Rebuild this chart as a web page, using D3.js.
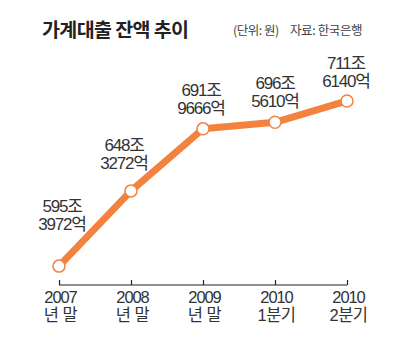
<!DOCTYPE html>
<html><head><meta charset="utf-8">
<script src="https://cdn.jsdelivr.net/npm/d3@7/dist/d3.min.js"></script>
<style>
html,body{margin:0;padding:0;background:#fff;}
svg{display:block;}
</style></head>
<body>
<script>
// ---- data ----
const periods = ["2007", "2008", "2009", "2010", "2010"];
const periodSub = ["년 말", "년 말", "년 말", "1분기", "2분기"];
const balanceJo = [595, 648, 691, 696, 711];      // 조 원
const balanceEok = [3972, 3272, 9666, 5610, 6140]; // 억 원
const title = "가계대출 잔액 추이";
const unitNote = "(단위: 원)";
const sourceNote = "자료: 한국은행";

const values = balanceJo.map((j, i) => j + balanceEok[i] / 10000);

const W = 397, H = 340;
const svg = d3.select("body").append("svg").attr("width", W).attr("height", H);
const font = "'Liberation Sans', 'Noto Sans CJK KR', sans-serif";
const orange = "#f3823f";
const textCol = "#333";

const x = d3.scalePoint().domain(d3.range(values.length)).range([59, 347]);
const y = d3.scaleLinear().domain([580, 720]).range([288, 89]);

// title
svg.append("text").attr("x", 42).attr("y", 37)
  .attr("font-family", "'Noto Sans CJK KR', sans-serif").attr("font-weight", "bold")
  .attr("font-size", 19.5).attr("letter-spacing", -0.6).attr("fill", "#222").text(title);
svg.append("text").attr("x", 233).attr("y", 35)
  .attr("font-family", "'Noto Sans CJK KR', sans-serif")
  .attr("font-size", 12.5).attr("letter-spacing", -0.5).attr("fill", "#444").text(unitNote);
svg.append("text").attr("x", 290).attr("y", 35)
  .attr("font-family", "'Noto Sans CJK KR', sans-serif")
  .attr("font-size", 12.5).attr("letter-spacing", -0.4).attr("fill", "#444").text(sourceNote);

// axis
const axisY = 285;
const axis = d3.axisTop(x).tickSize(5).tickFormat("").tickSizeOuter(0);
const ag = svg.append("g").attr("transform", `translate(0,${axisY})`).call(axis);
ag.select(".domain").attr("stroke", "#222").attr("stroke-width", 1.2).attr("d", `M${x(0)},0H${x(values.length-1)}`);
ag.selectAll(".tick line").attr("stroke", "#222").attr("stroke-width", 1.2);

// tick labels
const tl = svg.append("g");
values.forEach((v, i) => {
  const t = tl.append("text").attr("text-anchor", "middle")
    .attr("font-family", font).attr("fill", textCol)
    .attr("font-size", 16.5).attr("letter-spacing", -1.1);
  t.append("tspan").attr("x", x(i) + 1.5).attr("y", 303).text(periods[i]);
  t.append("tspan").attr("x", x(i) + 1.5).attr("y", 321).attr("letter-spacing", -0.5).text(periodSub[i]);
});

// line
const line = d3.line().x((d, i) => x(i)).y(d => y(d));
svg.append("path").datum(values).attr("d", line)
  .attr("fill", "none").attr("stroke", orange).attr("stroke-width", 7)
  .attr("stroke-linejoin", "round");

svg.selectAll("circle.pt").data(values).enter().append("circle")
  .attr("class", "pt").attr("cx", (d, i) => x(i)).attr("cy", d => y(d)).attr("r", 6)
  .attr("fill", "#fff").attr("stroke", orange).attr("stroke-width", 1.5);

// value labels (layout offsets relative to the point)
const labelDx = [3, -7, -2, 0, -1];
const labelDy = [-54, -40, -33, -33, -32];
values.forEach((v, i) => {
  const cx = x(i) + labelDx[i], cy = y(v) + labelDy[i];
  const t = svg.append("text").attr("text-anchor", "middle")
    .attr("font-family", font).attr("fill", textCol)
    .attr("font-size", 17).attr("letter-spacing", -1.2);
  t.append("tspan").attr("x", cx).attr("y", cy).text(balanceJo[i] + "조");
  t.append("tspan").attr("x", cx).attr("y", cy + 18).text(balanceEok[i] + "억");
});
</script>
</body></html>
